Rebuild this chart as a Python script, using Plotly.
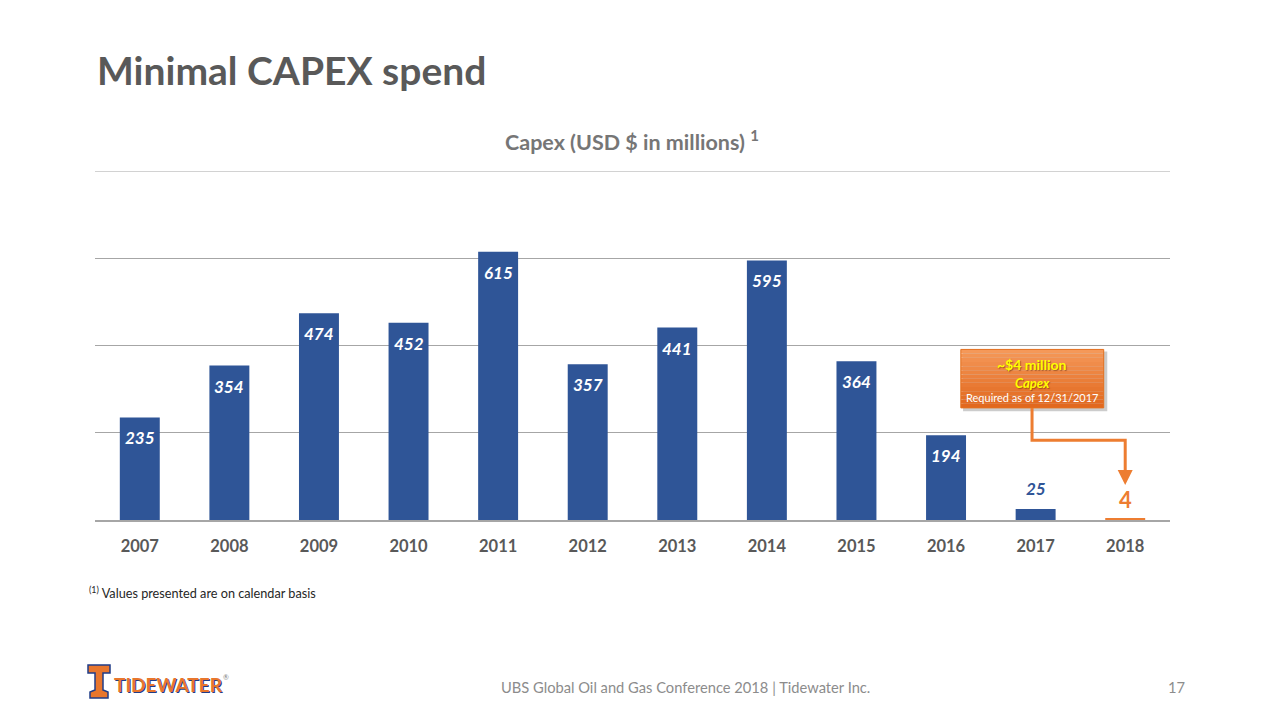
import plotly.graph_objects as go

years = ["2007", "2008", "2009", "2010", "2011", "2012", "2013", "2014", "2015", "2016", "2017", "2018"]
capex = [235, 354, 474, 452, 615, 357, 441, 595, 364, 194, 25, 4]

BLUE = "#2F5597"
ORANGE = "#ED7D31"
FONT = "Lato"

OFF = 8  # page body margin
L, R, T, B = 95 - OFF, 110 + OFF, 171 - OFF, 200 + OFF
PW, PH = 1280 - L - R, 720 - T - B

n_in = len(capex) - 2
bar_colors = [BLUE] * (n_in + 1) + [ORANGE]

fig = go.Figure()
fig.add_trace(go.Bar(
    x=years, y=capex,
    marker=dict(color=bar_colors, line=dict(width=0)),
    width=0.446,
    hoverinfo="skip",
))

# value labels inside the top of the larger bars
for i in range(n_in):
    fig.add_annotation(x=i, y=capex[i], xref="x", yref="y", showarrow=False,
                       yanchor="top", yshift=-8, text=str(capex[i]),
                       font=dict(family=FONT, size=17, color="white", weight="bold", style="italic"))

# outside labels for the two small bars (category index positions)
i17, i18 = len(years) - 2, len(years) - 1
fig.add_annotation(x=i17, y=capex[i17], xref="x", yref="y", showarrow=False,
                   yanchor="bottom", yshift=8, text=str(capex[i17]),
                   font=dict(family=FONT, size=17, color=BLUE, weight="bold", style="italic"))
fig.add_annotation(x=i18, y=capex[i18], xref="x", yref="y", showarrow=False,
                   yanchor="bottom", yshift=3, text=str(capex[i18]),
                   font=dict(family=FONT, size=22, color=ORANGE, weight="bold"))

fig.update_layout(
    width=1280, height=720, autosize=False,
    paper_bgcolor="white", plot_bgcolor="white",
    margin=dict(l=L, r=R, t=T, b=B),
    showlegend=False,
    xaxis=dict(
        type="category", range=[-0.5, len(years) - 0.5], autorange=False,
        showgrid=False, zeroline=False,
        showline=True, linecolor="#A6A6A6", linewidth=1.5,
        ticks="", tickfont=dict(family=FONT, size=16.5, color="#595959", weight="bold"),
        ticklabelstandoff=10,
    ),
    yaxis=dict(
        range=[0, 800], autorange=False, dtick=200, showticklabels=False,
        showgrid=True, gridcolor="#A6A6A6", gridwidth=1,
        zeroline=False, showline=False, fixedrange=True,
    ),
)

# top gridline at 800 visible
fig.add_shape(type="line", xref="paper", yref="y", x0=0, x1=1, y0=800, y1=800,
              line=dict(color="#A6A6A6", width=1))


def px(x):
    return (x - OFF - L) / PW


def py(y):
    return (720 - B - (y - OFF)) / PH


def ctext(x, y, text, size, color, xanchor="center", **kw):
    font = dict(family=FONT, size=size, color=color)
    font.update(kw.pop("font", {}))
    fig.add_annotation(x=px(x), y=py(y), xref="paper", yref="paper",
                       showarrow=False, xanchor=xanchor, yanchor="middle", text=text,
                       font=font, **kw)


# Slide title
ctext(95, 70, "<b>Minimal CAPEX spend</b>", 39, "#595959", xanchor="left")

# Chart title
ctext(632, 141, "<b>Capex (USD $ in millions)</b> <b><sup>1</sup></b>", 21.5, "#767676")

# Footnote
ctext(87, 592, "<sup>(1)</sup> Values presented are on calendar basis", 12.7, "#262626", xanchor="left")

# Footer
ctext(685, 687, "UBS Global Oil and Gas Conference 2018 | Tidewater Inc.", 14.7, "#8C8C8C")
ctext(1176, 687, "17", 14.7, "#8C8C8C")

# Logo approximation: T icon built from a path + wordmark
def pth(points):
    return "M " + " L ".join(f"{px(a)},{py(b)}" for a, b in points) + " Z"

t_icon = [(88, 665), (110, 665), (110, 673), (103, 673), (103, 690), (108, 692), (108, 698),
          (90, 698), (90, 692), (95, 690), (95, 673), (88, 673)]
fig.add_shape(type="path", xref="paper", yref="paper", path=pth(t_icon),
              fillcolor="#E8762D", line=dict(color="#1F3C88", width=1.5), layer="above")
ctext(112, 684, "<b>TIDEWATER</b>", 19, "#E8762D", xanchor="left",
      font=dict(weight=900, shadow="1px 1px 0px #1F3C88"))
ctext(221, 677, "®", 7, "#7F7F7F", xanchor="left")

# Callout box (shadow + gradient box)
fig.add_shape(type="rect", xref="x", yref="y", x0=9.19, x1=10.80, y0=249, y1=386,
              fillcolor="rgba(0,0,0,0.20)", line=dict(width=0), layer="above")
y0b, y1b = 257, 391
nb = 14
top_c = (245, 152, 88)
bot_c = (226, 104, 30)
for i in range(nb):
    f = i / (nb - 1)
    c = tuple(int(top_c[k] + (bot_c[k] - top_c[k]) * f) for k in range(3))
    ya = y1b - (y1b - y0b) * i / nb
    yb = y1b - (y1b - y0b) * (i + 1) / nb
    fig.add_shape(type="rect", xref="x", yref="y", x0=9.165, x1=10.76, y0=yb, y1=ya,
                  fillcolor=f"rgb{c}", line=dict(width=0), layer="above")
fig.add_shape(type="rect", xref="x", yref="y", x0=9.165, x1=10.76, y0=y0b, y1=y1b,
              fillcolor="rgba(0,0,0,0)", line=dict(color="#E3701F", width=1), layer="above")
fig.add_annotation(x=9.96, y=356, xref="x", yref="y", showarrow=False,
                   text="<b>~$4 million</b>", font=dict(family=FONT, size=14, color="#FFFF00",
                                                       shadow="1px 1px 1px rgba(120,50,0,0.6)"))
fig.add_annotation(x=9.96, y=315, xref="x", yref="y", showarrow=False,
                   text="<b><i>Capex</i></b>", font=dict(family=FONT, size=13, color="#FFFF00",
                                                        shadow="1px 1px 1px rgba(120,50,0,0.6)"))
fig.add_annotation(x=9.96, y=281, xref="x", yref="y", showarrow=False,
                   text="Required as of 12/31/2017", font=dict(family=FONT, size=11, color="white"))

# Elbow connector
fig.add_shape(type="path", xref="x", yref="y",
              path="M 9.96,257 L 9.96,183 L 11,183 L 11,95",
              line=dict(color=ORANGE, width=3), layer="above")
fig.add_annotation(x=11, y=80, ax=11, ay=110, xref="x", yref="y", axref="x", ayref="y",
                   showarrow=True, arrowhead=2, arrowsize=1, arrowwidth=3, arrowcolor=ORANGE, text="")

fig.write_html("out.html")
